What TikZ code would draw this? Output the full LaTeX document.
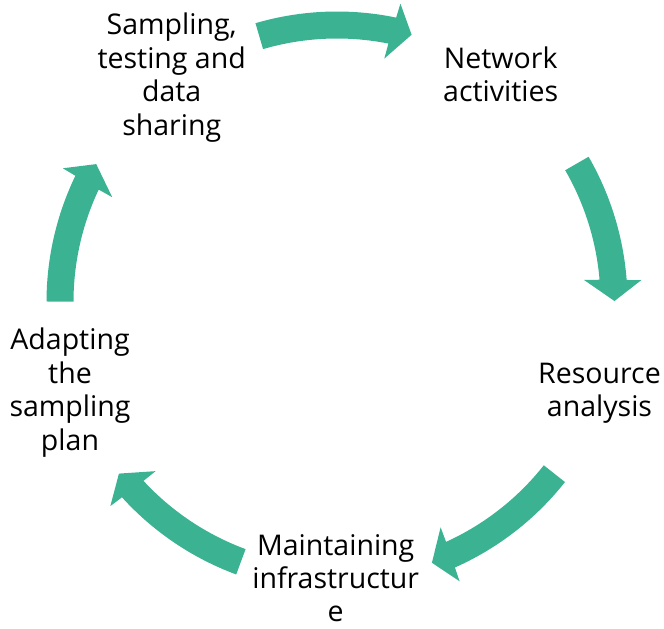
\documentclass[tikz,border=0pt]{standalone}
\usepackage{fontspec}
\setmainfont{Open Sans}
\definecolor{cycteal}{RGB}{59,179,147}
\tikzset{
  lbl/.style={align=center, font=\fontsize{28.5}{33.4}\selectfont, inner sep=0pt, text=black},
  arrowfill/.style={fill=cycteal, draw=none}
}
% #1 start angle, #2 head back angle, #3 tip angle (arrows run clockwise)
\newcommand\cycarrow[3]{%
  \pgfmathsetmacro\cyaON{#2-0.25}%
  \pgfmathsetmacro\cyaIN{#2+0.25}%
  \pgfmathsetmacro\cyaOB{#2-0.5}%
  \pgfmathsetmacro\cyaIB{#2+0.5}%
  \fill[arrowfill] (#1:290.5pt) arc[start angle=#1, end angle=\cyaON, radius=290.5pt]
    -- (\cyaOB:305pt) -- (#3:277.5pt) -- (\cyaIB:248pt) -- (\cyaIN:263.5pt)
    arc[start angle=\cyaIN, end angle=#1, radius=263.5pt] -- cycle;}
\begin{document}
\begin{tikzpicture}
\useasboundingbox (0pt,0pt) rectangle (664pt,-629pt);
\coordinate (C) at (337pt,-302pt);
\node[lbl] (samp) at (171.7pt,-78.3pt) {\strut Sampling,\\testing and\\data\\sharing\strut};
\node[lbl] (net) at (500.7pt,-78.3pt) {\strut Network\\activities\strut};
\node[lbl] (res) at (599.5pt,-393.3pt) {\strut Resource\\analysis\strut};
\node[lbl] (main) at (335.7pt,-577pt) {\strut Maintaining\\infrastructur\\e};
\node[lbl] (adapt) at (70pt,-393.3pt) {\strut Adapting\\the\\sampling\\plan\strut};
\begin{scope}[shift={(C)}]
  \cycarrow{106.3}{78.5}{74.4}
  \cycarrow{30.0}{4.6}{0.2}
  \cycarrow{-38.3}{-65.8}{-70.0}
  \cycarrow{-110.3}{-137.5}{-141.8}
  \cycarrow{179.9}{154.5}{150.2}
\end{scope}
\end{tikzpicture}
\end{document}
